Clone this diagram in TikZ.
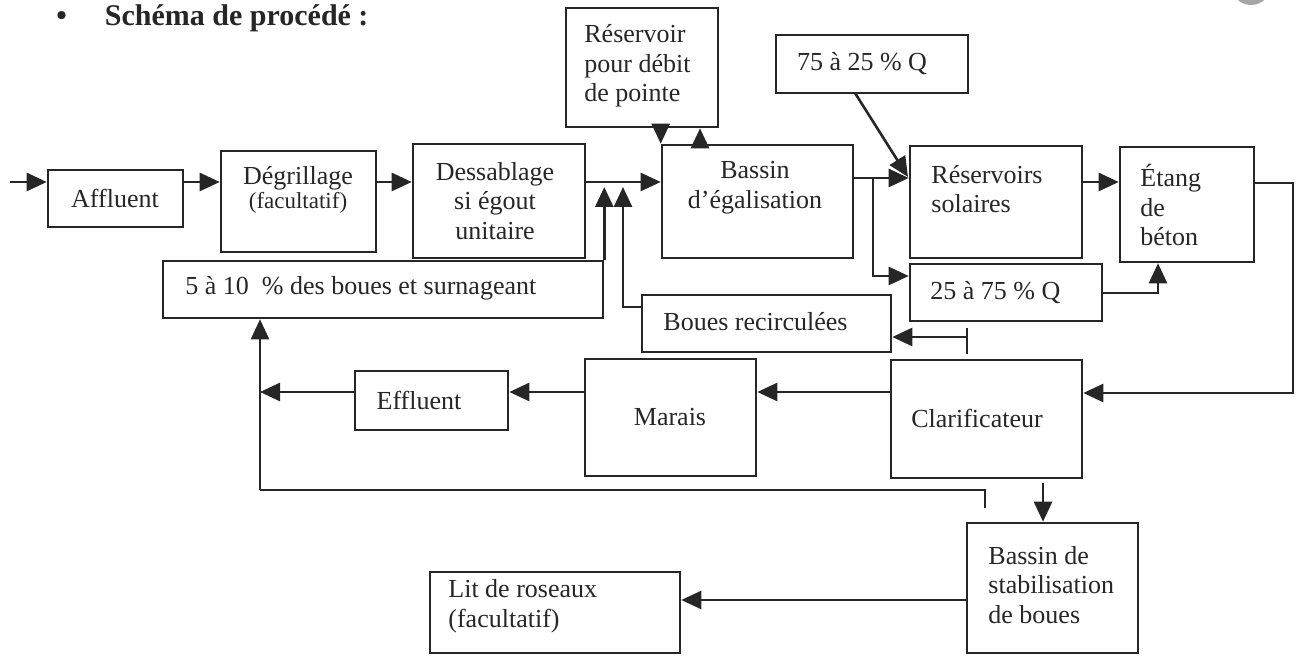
\documentclass[tikz,border=0pt]{standalone}
\usepackage{fontspec}
\setmainfont{Liberation Serif}
\usetikzlibrary{arrows.meta}
\definecolor{ink}{HTML}{262626}
\begin{document}
\begin{tikzpicture}[x=0.5pt,y=-0.5pt,
  box/.style={draw=ink, line width=1.3pt, inner sep=0pt},
  txt/.style={font=\fontsize{13}{14.8}\selectfont, text=ink, inner sep=0pt},
  txtsm/.style={font=\fontsize{11.5}{13}\selectfont, text=ink, inner sep=0pt},
  ln/.style={draw=ink, line width=1.3pt},
  arr/.style={ln, -{Triangle[length=10pt,width=9pt]}},
]
\useasboundingbox (0,0) rectangle (1301,656);
% title
\node[font=\fontsize{15}{17}\bfseries\selectfont, text=ink, anchor=base west, inner sep=0pt] (title) at (56,26) {•\hspace{19pt}Schéma de procédé :};
\fill[gray!70] (1251,-15) circle (20);

% boxes
\node[box, minimum width=67.5pt, minimum height=28.5pt] (aff) at (115.5,198.5) {};
\node[box, minimum width=77.5pt, minimum height=50.5pt] (deg) at (298.5,201.5) {};
\node[box, minimum width=86pt, minimum height=57pt] (dess) at (499,201) {};
\node[box, minimum width=76pt, minimum height=59.5pt] (resp) at (642,67.5) {};
\node[box, minimum width=95.5pt, minimum height=56.5pt] (bas) at (757.5,201.5) {};
\node[box, minimum width=96pt, minimum height=29pt] (q75) at (872,64) {};
\node[box, minimum width=86pt, minimum height=56pt] (sol) at (996,202) {};
\node[box, minimum width=67pt, minimum height=57.5pt] (etang) at (1187,204.5) {};
\node[box, minimum width=220pt, minimum height=28.5pt] (pct) at (383,289.5) {};
\node[box, minimum width=96pt, minimum height=28.5pt] (q25) at (1006,292.5) {};
\node[box, minimum width=124.5pt, minimum height=28.5pt] (boues) at (766.5,323.5) {};
\node[box, minimum width=95.5pt, minimum height=59pt] (clar) at (986.5,419) {};
\node[box, minimum width=85.5pt, minimum height=58.5pt] (marais) at (670.5,417.5) {};
\node[box, minimum width=76.5pt, minimum height=29.5pt] (eff) at (431.5,400.5) {};
\node[box, minimum width=85.5pt, minimum height=65pt] (stab) at (1052.5,588) {};
\node[box, minimum width=125pt, minimum height=40.5pt] (lit) at (555,612.5) {};

% texts
\node[txt] (taff) at (115,198) {Affluent};
\node[txt] (tdeg) at (298,178) {Dégrillage};
\node[txtsm] (tdeg2) at (298,203) {(facultatif)};
\node[txt, align=center] (tdess) at (495,201) {Dessablage\\si égout\\unitaire};
\node[txt, align=left, anchor=west] (tresp) at (584,66) {Réservoir\\pour débit\\de pointe};
\node[txt, align=center] (tbas) at (755,188) {Bassin\\d’égalisation};
\node[txt] (tq75) at (862,64) {75 à 25~\% Q};
\node[txt, align=left, anchor=west] (tsol) at (931,189) {Réservoirs\\solaires};
\node[txt, align=left, anchor=west] (tet) at (1140,205) {Étang\\de\\béton};
\node[txt, anchor=west] (tpct) at (185,288) {5 à 10~~\% des boues et surnageant};
\node[txt, anchor=west] (tq25) at (930,293) {25 à 75~\% Q};
\node[txt, anchor=west] (tbo) at (663,322) {Boues recirculées};
\node[txt] (tcl) at (977,418) {Clarificateur};
\node[txt] (tma) at (670,417) {Marais};
\node[txt] (tef) at (419,400) {Effluent};
\node[txt, align=left, anchor=west] (tli) at (448,606) {Lit de roseaux\\(facultatif)};
\node[txt, align=left, anchor=west] (tst) at (988,585) {Bassin de\\stabilisation\\de boues};

% level coordinates
\coordinate (in) at (10,182);
\coordinate (m) at (0,182);
\coordinate (m2) at (0,178);
\coordinate (up) at (700,0);
\coordinate (q75s) at (855,93);
\coordinate (solin) at (908,177);
\coordinate (br) at (873,179);
\coordinate (y276) at (0,276);
\coordinate (y183) at (0,183);
\coordinate (ret) at (1293,0);
\coordinate (y393) at (0,393);
\coordinate (y293) at (0,293);
\coordinate (x1158) at (1158,0);
\coordinate (tk1) at (967,354);
\coordinate (tk2) at (967,328);
\coordinate (tk3) at (967,337);
\coordinate (y307) at (0,307);
\coordinate (x623) at (623,0);
\coordinate (y187) at (0,187);
\coordinate (y392) at (0,392);
\coordinate (x260) at (260,0);
\coordinate (y490) at (0,490);
\coordinate (bend) at (985,490);
\coordinate (bend2) at (985,508);
\coordinate (x1043) at (1043,0);
\coordinate (y483) at (0,483);
\coordinate (y600) at (0,600);

% connectors
\draw[arr] (in) -- (aff.west |- m);
\draw[arr] (aff.east |- m) -- (deg.west |- m);
\draw[arr] (deg.east |- m) -- (dess.west |- m);
\draw[arr] (dess.east |- m) -- (bas.west |- m);
\draw[arr] (resp.south -| bas.north west) -- (bas.north west);
\draw[arr] (bas.north -| up) -- (resp.south -| up);
\draw[arr] (bas.east |- m2) -- (sol.west |- m2);
\draw[arr] (q75s) -- (solin);
\draw[arr] (br) |- (q25.west |- y276);
\draw[arr] (sol.east |- m) -- (etang.west |- m);
\draw[arr] (etang.east |- y183) -| (ret |- y393) -- (clar.east |- y393);
\draw[arr] (q25.east |- y293) -| (etang.south -| x1158);
\draw[ln] (tk1) -- (tk2);
\draw[arr] (tk3) -- (boues.east |- tk3);
\draw[arr] (boues.west |- y307) -| (x623 |- y187);
\draw[arr] (pct.north east) -- (pct.east |- y187);
\draw[arr] (clar.west |- y392) -- (marais.east |- y392);
\draw[arr] (marais.west |- y392) -- (eff.east |- y392);
\draw[arr] (eff.west |- y392) -- (x260 |- y392);
\draw[arr] (x260 |- y490) -- (pct.south -| x260);
\draw[ln] (x260 |- y490) -- (bend) -- (bend2);
\draw[arr] (x1043 |- y483) -- (stab.north -| x1043);
\draw[arr] (stab.west |- y600) -- (lit.east |- y600);
\end{tikzpicture}
\end{document}
